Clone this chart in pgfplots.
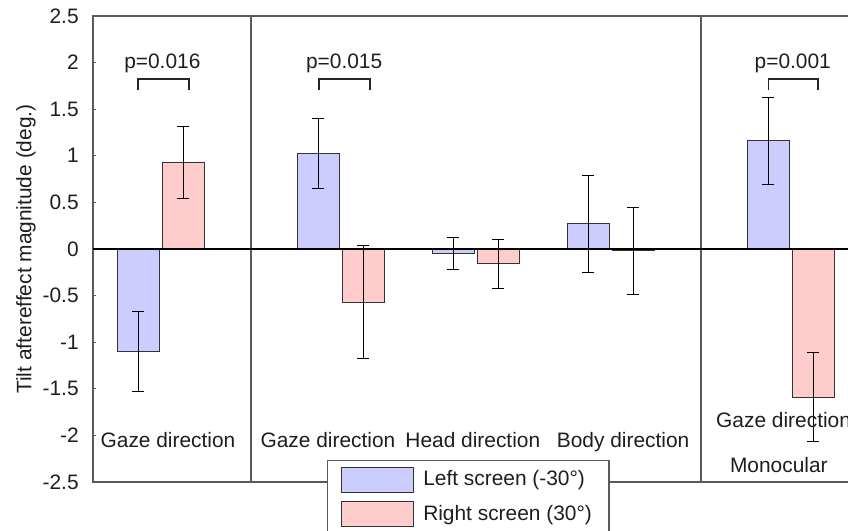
\documentclass[border=0pt]{standalone}
\usepackage{pgfplots}
\pgfplotsset{compat=1.18}
\usepackage{pgfplotstable}
\usepackage{fontspec}
\setmainfont{Liberation Sans}
\definecolor{lblue}{RGB}{204,204,255}
\definecolor{lpink}{RGB}{255,204,204}
\definecolor{framec}{RGB}{90,90,90}
\definecolor{txt}{RGB}{30,30,30}

\pgfplotstableread{
x b be p pe
0 -1.10 0.425 0.93 0.385
4 1.025 0.38 -0.57 0.61
7 -0.05 0.17 -0.16 0.26
10 0.27 0.52 -0.02 0.47
14 1.16 0.47 -1.59 0.48
}\data

\newcommand{\fs}{\fontsize{10.45}{12.5}\selectfont}
\begin{document}
\fs
\begin{tikzpicture}
\useasboundingbox (-46.5pt,-24.5pt) rectangle (377.5pt,241pt);
\begin{axis}[
  at={(0,0)}, anchor=south west,
  scale only axis, width=377.5pt, height=233pt,
  xmin=-1.511, xmax=15.267, ymin=-2.5, ymax=2.5,
  axis line style={draw=none},
  clip=false,
  xtick=\empty,
  ytick={-2.5,-2,-1.5,-1,-0.5,0,0.5,1,1.5,2,2.5},
  ytick pos=left, tick align=inside, major tick length=1.5pt,
  tick style={framec, line width=0.6pt},
  /pgf/number format/assume math mode=true,
  yticklabel style={font=\fs, text=txt, xshift=-3.5pt},
  ylabel={Tilt aftereffect magnitude (deg.)},
  ylabel style={at={(axis description cs:-0.0887,0.5)}, anchor=center, font=\fs, text=txt},
  ybar, bar width=0.92,
  legend style={at={(rel axis cs:0.3095,0.0472)}, anchor=north west, draw=framec, line width=0.6pt, fill=white,
    font=\fs, text=txt, inner xsep=7pt, inner ysep=3pt, row sep=4.2pt, column sep=3pt,
    nodes={inner sep=1.5pt}},
  legend cell align=left,
]
\addplot[fill=lblue, draw=black!80, line width=0.5pt, bar shift=-0.5,
  legend image code/.code={\draw[fill=lblue, draw=black!80, line width=0.5pt] (0pt,-6.25pt) rectangle (36pt,6.25pt);},
  error bars/.cd, y dir=both, y explicit,
  error bar style={black, line width=0.5pt},
  error mark options={rotate=90, mark size=3pt, black, line width=0.5pt}]
  table[x=x, y=b, y error=be]{\data};
\addlegendentry{Left screen (-30°)}
\addplot[fill=lpink, draw=black!80, line width=0.5pt, bar shift=0.5,
  legend image code/.code={\draw[fill=lpink, draw=black!80, line width=0.5pt] (0pt,-6.25pt) rectangle (36pt,6.25pt);},
  error bars/.cd, y dir=both, y explicit,
  error bar style={black, line width=0.5pt},
  error mark options={rotate=90, mark size=3pt, black, line width=0.5pt}]
  table[x=x, y=p, y error=pe]{\data};
\addlegendentry{Right screen (30°)}

% frame and separators
\draw[framec, line width=0.75pt] (rel axis cs:1,1) -- (rel axis cs:0,1) -- (rel axis cs:0,0) -- (rel axis cs:1,0);
\draw[framec, line width=0.75pt] (axis cs:2,-2.5) -- (axis cs:2,2.5);
\draw[framec, line width=0.75pt] (axis cs:12,-2.5) -- (axis cs:12,2.5);
% zero line
\draw[black, line width=1.1pt] (axis cs:-1.511,0) -- (axis cs:15.267,0);
% significance brackets
\draw[black!85, line width=0.9pt] (axis cs:-0.51,1.71) -- (axis cs:-0.51,1.82) -- (axis cs:0.62,1.82) -- (axis cs:0.62,1.71);
\draw[black!85, line width=0.9pt] (axis cs:3.51,1.71) -- (axis cs:3.51,1.82) -- (axis cs:4.64,1.82) -- (axis cs:4.64,1.71);
\draw[black!85, line width=0.9pt] (axis cs:13.50,1.71) -- (axis cs:13.50,1.82) -- (axis cs:14.60,1.82) -- (axis cs:14.60,1.71);
\node[anchor=base, text=txt, inner sep=0pt] at (axis cs:0.03,1.94) {p=0.016};
\node[anchor=base, text=txt, inner sep=0pt] at (axis cs:4.07,1.94) {p=0.015};
\node[anchor=base, text=txt, inner sep=0pt] at (axis cs:14.04,1.94) {p=0.001};
% category labels
\node[anchor=base, text=txt, inner sep=0pt] at (axis cs:0.156,-2.13) {Gaze direction};
\node[anchor=base, text=txt, inner sep=0pt] at (axis cs:3.71,-2.13) {Gaze direction};
\node[anchor=base, text=txt, inner sep=0pt] at (axis cs:6.93,-2.13) {Head direction};
\node[anchor=base, text=txt, inner sep=0pt] at (axis cs:10.27,-2.13) {Body direction};
\node[anchor=base west, text=txt, inner sep=0pt] at (axis cs:12.33,-1.92) {Gaze direction};
\node[anchor=base, text=txt, inner sep=0pt] at (axis cs:13.73,-2.40) {Monocular};
\end{axis}
\end{tikzpicture}
\end{document}
